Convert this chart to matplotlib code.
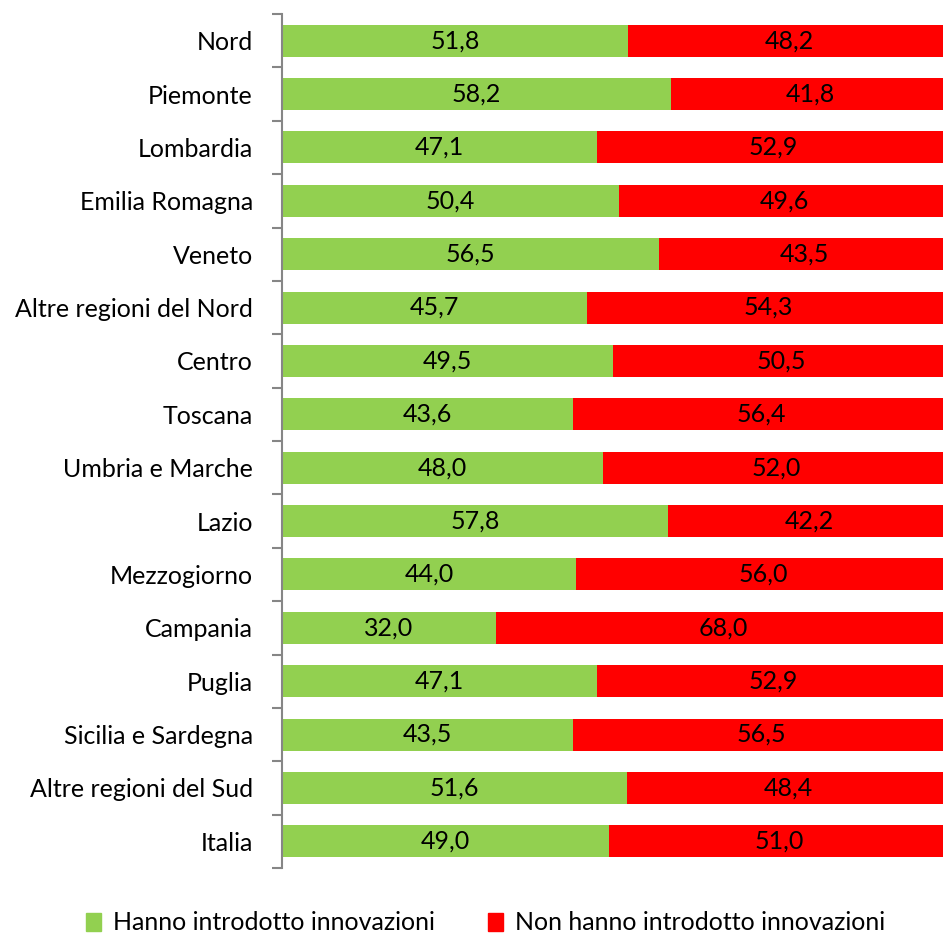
import numpy as np
import matplotlib.pyplot as plt
from matplotlib.patches import Patch

regioni = ['Nord', 'Piemonte', 'Lombardia', 'Emilia Romagna', 'Veneto',
           'Altre regioni del Nord', 'Centro', 'Toscana', 'Umbria e Marche',
           'Lazio', 'Mezzogiorno', 'Campania', 'Puglia', 'Sicilia e Sardegna',
           'Altre regioni del Sud', 'Italia']
innovazioni = [51.8, 58.2, 47.1, 50.4, 56.5, 45.7, 49.5, 43.6, 48.0, 57.8,
               44.0, 32.0, 47.1, 43.5, 51.6, 49.0]
non_innovazioni = [48.2, 41.8, 52.9, 49.6, 43.5, 54.3, 50.5, 56.4, 52.0, 42.2,
                   56.0, 68.0, 52.9, 56.5, 48.4, 51.0]

plt.rcParams['font.family'] = ['Lato', 'DejaVu Sans']

verde = '#92D050'
rosso = '#FF0000'

fig = plt.figure(figsize=(9.43, 9.35), dpi=100)
# l'asse va un po' oltre il bordo destro, come nell'originale
ax = fig.add_axes([282 / 943, 1 - 868 / 935, 668 / 943, 854 / 935])

y = np.arange(len(regioni))
ax.barh(y, innovazioni, height=0.6, color=verde)
ax.barh(y, non_innovazioni, left=innovazioni, height=0.6, color=rosso)

for i in range(len(regioni)):
    ax.text(innovazioni[i] / 2, y[i], f'{innovazioni[i]:.1f}'.replace('.', ','),
            ha='center', va='center', fontsize=18)
    ax.text(innovazioni[i] + non_innovazioni[i] / 2, y[i],
            f'{non_innovazioni[i]:.1f}'.replace('.', ','),
            ha='center', va='center', fontsize=18)

ax.set_xlim(0, 100)
ax.set_ylim(len(regioni) - 0.5, -0.5)
ax.set_yticks(y)
ax.set_yticklabels(regioni, fontsize=18)
ax.set_yticks(np.arange(len(regioni) + 1) - 0.5, minor=True)
ax.tick_params(axis='y', which='major', length=0, pad=21)
ax.tick_params(axis='y', which='minor', length=7, width=1.5, color='#868686')
ax.set_xticks([])
for s in ['top', 'right', 'bottom']:
    ax.spines[s].set_visible(False)
ax.spines['left'].set_color('#868686')
ax.spines['left'].set_linewidth(1.5)

handles = [Patch(color=verde, label='Hanno introdotto innovazioni'),
           Patch(color=rosso, label='Non hanno introdotto innovazioni')]
fig.legend(handles=handles, loc='center', bbox_to_anchor=(0.515, 1 - 923 / 935),
           ncol=2, frameon=False, fontsize=18, handlelength=0.6, handleheight=0.7,
           columnspacing=2.1, handletextpad=0.5, borderpad=0)

fig.savefig('out.png', dpi=100)
